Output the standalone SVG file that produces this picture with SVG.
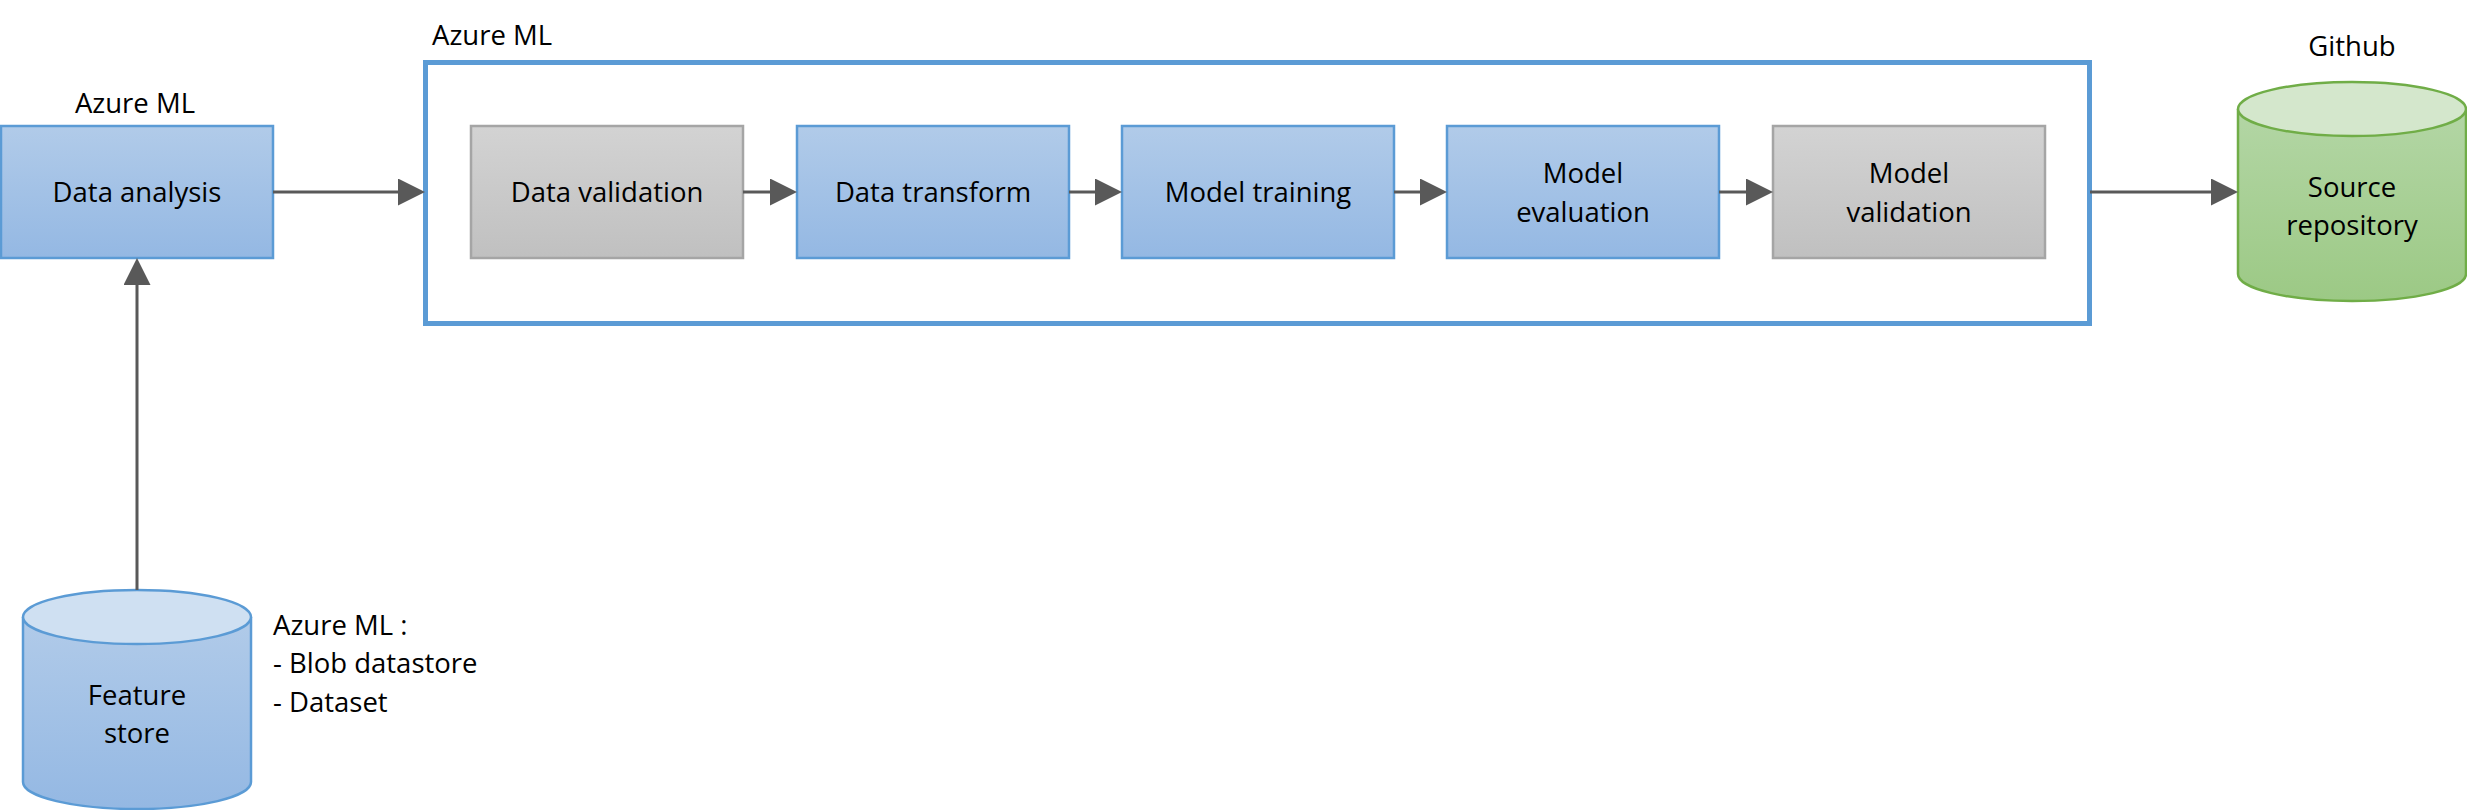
<svg xmlns="http://www.w3.org/2000/svg" width="2467" height="810" viewBox="0 0 2467 810">
<defs>
<linearGradient id="gBlue" x1="0" y1="0" x2="0" y2="1"><stop offset="0" stop-color="#b1cbe9"/><stop offset="1" stop-color="#94b8e3"/></linearGradient>
<linearGradient id="gGray" x1="0" y1="0" x2="0" y2="1"><stop offset="0" stop-color="#d3d3d3"/><stop offset="1" stop-color="#c0c0c0"/></linearGradient>
<linearGradient id="gGreen" x1="0" y1="0" x2="0" y2="1"><stop offset="0" stop-color="#b3d6a5"/><stop offset="1" stop-color="#9cc985"/></linearGradient>
<marker id="arr" markerUnits="userSpaceOnUse" markerWidth="27" markerHeight="27" refX="0" refY="13.5" orient="auto"><path d="M0,0 L27,13.5 L0,27 z" fill="#595959"/></marker>
</defs>
<style>
text{font-family:"Open Sans","Liberation Sans",Arial,sans-serif;font-size:27.5px;fill:#000}
.c{text-anchor:middle}
.blue{fill:url(#gBlue);stroke:#5b9bd5;stroke-width:2.5}
.gray{fill:url(#gGray);stroke:#a5a5a5;stroke-width:2.5}
.green{fill:url(#gGreen);stroke:#70ad47;stroke-width:2.5}
.conn{stroke:#595959;stroke-width:3;fill:none;marker-end:url(#arr)}
</style>
<rect width="2467" height="810" fill="#fff"/>

<g id="container">
<rect x="425.5" y="62.5" width="1664" height="261" fill="none" stroke="#5b9bd5" stroke-width="5"/>
<text x="432" y="45">Azure ML</text>
</g>

<g id="data-analysis">
<text class="c" x="135" y="113">Azure ML</text>
<rect class="blue" x="1" y="126" width="272" height="132"/>
<text class="c" x="137" y="202">Data analysis</text>
</g>

<g id="data-validation">
<rect class="gray" x="471" y="126" width="272" height="132"/>
<text class="c" x="607" y="202">Data validation</text>
</g>

<g id="data-transform">
<rect class="blue" x="797" y="126" width="272" height="132"/>
<text class="c" x="933" y="202">Data transform</text>
</g>

<g id="model-training">
<rect class="blue" x="1122" y="126" width="272" height="132"/>
<text class="c" x="1258" y="202">Model training</text>
</g>

<g id="model-evaluation">
<rect class="blue" x="1447" y="126" width="272" height="132"/>
<text class="c" x="1583" y="183">Model</text>
<text class="c" x="1583" y="222">evaluation</text>
</g>

<g id="model-validation">
<rect class="gray" x="1773" y="126" width="272" height="132"/>
<text class="c" x="1909" y="183">Model</text>
<text class="c" x="1909" y="222">validation</text>
</g>

<g id="source-repository">
<text class="c" x="2352" y="56">Github</text>
<path class="green" d="M2238,109 L2238,274 A114,27 0 0 0 2466,274 L2466,109"/>
<ellipse cx="2352" cy="109" rx="114" ry="27" fill="#d4e7cc" stroke="#70ad47" stroke-width="2.5"/>
<text class="c" x="2352" y="197">Source</text>
<text class="c" x="2352" y="235">repository</text>
</g>

<g id="feature-store">
<path class="blue" d="M23,617 L23,782 A114,27 0 0 0 251,782 L251,617"/>
<ellipse cx="137" cy="617" rx="114" ry="27" fill="#cfe0f2" stroke="#5b9bd5" stroke-width="2.5"/>
<text class="c" x="137" y="705">Feature</text>
<text class="c" x="137" y="743">store</text>
<text x="273" y="635">Azure ML :</text>
<text x="273" y="673">- Blob datastore</text>
<text x="273" y="712">- Dataset</text>
</g>

<g id="connectors">
<line class="conn" x1="273" y1="192" x2="398" y2="192"/>
<line class="conn" x1="743" y1="192" x2="770" y2="192"/>
<line class="conn" x1="1069" y1="192" x2="1095" y2="192"/>
<line class="conn" x1="1394" y1="192" x2="1420" y2="192"/>
<line class="conn" x1="1719" y1="192" x2="1746" y2="192"/>
<line class="conn" x1="2090" y1="192" x2="2211" y2="192"/>
<line class="conn" x1="137" y1="590" x2="137" y2="285"/>
</g>
</svg>
